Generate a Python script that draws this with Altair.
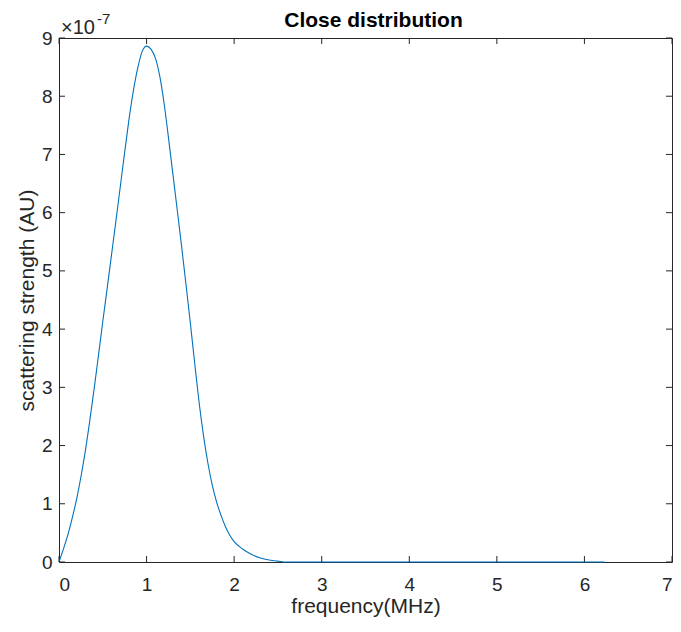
import altair as alt
import pandas as pd

# ---- data ----
freq_mhz = [0, 0.05, 0.10, 0.15, 0.20, 0.25, 0.30, 0.35, 0.40, 0.45, 0.50, 0.55,
            0.60, 0.65, 0.70, 0.75, 0.80, 0.85, 0.90, 0.95, 1.00, 1.05, 1.10,
            1.15, 1.20, 1.25, 1.30, 1.35, 1.40, 1.45, 1.50, 1.55, 1.60, 1.65,
            1.70, 1.75, 1.80, 1.85, 1.90, 1.95, 2.00, 2.10, 2.20, 2.30, 2.40,
            2.50, 2.60, 3.0, 4.0, 5.0, 6.0, 6.23]
# scattering strength in units of 1e-7 (AU)
strength_e7 = [0, 0.22, 0.46, 0.75, 1.07, 1.46, 1.90, 2.41, 2.96, 3.54, 4.13, 4.70,
               5.28, 5.86, 6.45, 7.04, 7.61, 8.10, 8.49, 8.77, 8.86, 8.81, 8.66,
               8.35, 7.88, 7.29, 6.67, 6.05, 5.42, 4.77, 4.10, 3.41, 2.74, 2.17,
               1.70, 1.32, 1.03, 0.80, 0.61, 0.46, 0.35, 0.22, 0.13, 0.07, 0.035,
               0.015, 0.0, 0, 0, 0, 0, 0]
x_ticks = [0, 1, 2, 3, 4, 5, 6, 7]
y_ticks = [0, 1, 2, 3, 4, 5, 6, 7, 8, 9]
title_text = "Close distribution"
x_title = "frequency(MHz)"
y_title = "scattering strength (AU)"
exp_base = "\u00d710"
exp_power = "-7"

W, H = 613, 524
FONT = "Liberation Sans"
AX = "#262626"

df = pd.DataFrame({"f": freq_mhz, "s": strength_e7})
xt = pd.DataFrame({"f": x_ticks})
yt = pd.DataFrame({"s": y_ticks})

xs = alt.Scale(domain=[0, 7], nice=False, zero=False)
ys = alt.Scale(domain=[0, 9], nice=False)
x_axis = alt.Axis(values=x_ticks, title=x_title, ticks=False, tickSize=0, domain=False,
                  grid=False, labelPadding=13, titlePadding=1, format="d")
y_axis = alt.Axis(values=y_ticks, title=y_title, ticks=False, tickSize=0, domain=False,
                  grid=False, labelPadding=7, titlePadding=4, format="d")
X = alt.X("f:Q", scale=xs, axis=x_axis, title=x_title)
Y = alt.Y("s:Q", scale=ys, axis=y_axis, title=y_title)

line = alt.Chart(df).mark_line(color="#0072BD", strokeWidth=1.1, interpolate="monotone").encode(
    x=X, y=Y)

tick_len = 6
bottom_ticks = alt.Chart(xt).mark_rule(color=AX, strokeWidth=1).encode(
    x=X, y=alt.value(H), y2=alt.value(H - tick_len))
top_ticks = alt.Chart(xt).mark_rule(color=AX, strokeWidth=1).encode(
    x=X, y=alt.value(0), y2=alt.value(tick_len))
left_ticks = alt.Chart(yt).mark_rule(color=AX, strokeWidth=1).encode(
    y=Y, x=alt.value(0), x2=alt.value(tick_len))
right_ticks = alt.Chart(yt).mark_rule(color=AX, strokeWidth=1).encode(
    y=Y, x=alt.value(W), x2=alt.value(W - tick_len))

title = alt.Chart(pd.DataFrame({"t": [title_text]})).mark_text(
    font=FONT, fontSize=21, fontWeight="bold", color="#000000", align="center", baseline="alphabetic"
).encode(text="t:N", x=alt.value(W / 2 + 8), y=alt.value(-11))

exp1 = alt.Chart(pd.DataFrame({"t": [exp_base]})).mark_text(
    font=FONT, fontSize=20, color=AX, align="left", baseline="alphabetic"
).encode(text="t:N", x=alt.value(2), y=alt.value(-4))
exp2 = alt.Chart(pd.DataFrame({"t": [exp_power]})).mark_text(
    font=FONT, fontSize=15, color=AX, align="left", baseline="alphabetic"
).encode(text="t:N", x=alt.value(38), y=alt.value(-14))

chart = alt.layer(line, bottom_ticks, top_ticks, left_ticks, right_ticks, title, exp1, exp2).properties(
    width=W, height=H, autosize="none",
    padding={"left": 51, "top": 30, "right": 1, "bottom": 61},
    background="white",
).configure_view(
    stroke=AX, strokeWidth=1
).configure_axis(
    labelFont=FONT, labelFontSize=19, labelColor=AX,
    titleFont=FONT, titleFontSize=21, titleColor=AX, titleFontWeight="normal",
)

chart.save("out.html", embed_options={"renderer": "svg", "actions": False})
